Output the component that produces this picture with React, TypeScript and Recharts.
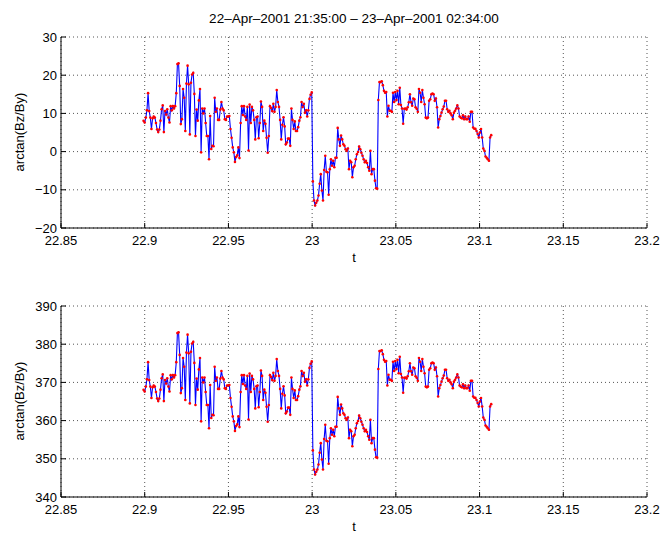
import React from 'react';
import { LineChart, Line, XAxis, YAxis, CartesianGrid } from 'recharts';

const TITLE = '22–Apr–2001 21:35:00 – 23–Apr–2001 02:34:00';
const Y_LABEL = 'arctan(Bz/By)';
const X_LABEL = 't';

// time axis in days of month (start / end of the interval)
const T_START = 22 + (21 * 60 + 35) / 1440;
const T_END = 23 + (2 * 60 + 34) / 1440;

const X_TICKS = [22.85, 22.9, 22.95, 23, 23.05, 23.1, 23.15, 23.2];
const TOP_Y_TICKS = [-20, -10, 0, 10, 20, 30];
const BOTTOM_Y_TICKS = [340, 350, 360, 370, 380, 390];

// arctan(Bz/By) in degrees
const ANGLE = [
  8.05, 7.6, 8.9, 10.8, 15.3, 10.6, 8.9, 5.9, 8.7, 9.2,
  8.9, 7.5, 5.8, 5.1, 5.8, 8.1, 11.1, 12.1, 5.1, 10.6,
  9.7, 11.1, 8.9, 7.6, 11.9, 10.8, 11.9, 11.3, 11.9, 15.3,
  22.9, 23.1, 17.2, 7.2, 8.5, 16.4, 14.1, 5.4, 17.8, 22.5,
  17.6, 4.5, 18.0, 20.2, 20.6, 15.1, 4.1, 11.0, 8.1, 13.4,
  16.4, -0.2, 11.3, 10.0, 11.3, 7.5, 4.1, 4.1, -2.0, 9.3,
  0.7, 1.5, 1.4, 14.1, 10.4, 11.3, 8.3, 8.3, 11.0, 13.0,
  11.3, 10.8, 8.5, 8.3, 9.2, 9.2, 9.3, 5.9, 3.6, 1.1,
  -0.2, -2.7, -1.4, -1.0, 1.1, -1.7, 7.5, 11.9, 9.6, 11.9,
  9.2, 8.3, 11.7, 0.3, 12.3, 7.5, 11.7, 10.8, 8.3, 3.2,
  9.0, 9.2, 3.5, 7.5, 13.1, 11.7, 5.4, 8.1, 7.3, 3.6,
  -0.3, 4.1, 11.9, 11.4, 10.6, 12.5, 10.4, 11.7, 16.1, 13.0,
  11.7, 8.3, 3.2, 7.0, 9.0, 6.6, 1.9, 2.4, 3.4, 3.4,
  1.5, 11.3, 8.3, 5.9, 7.9, 5.4, 5.4, 6.4, 8.1, 9.0,
  13.0, 11.7, 12.5, 10.2, 10.8, 9.2, 10.8, 13.8, 14.9, 15.5,
  -7.8, -12.8, -14.1, -13.4, -12.8, -11.5, -8.4, -5.9, -10.2, -12.8,
  -4.8, -1.1, -5.3, -5.4, -11.3, -4.6, -2.0, -3.7, -2.4, -4.1,
  -1.6, -1.6, 6.2, 3.2, 1.5, 4.2, 3.2, 1.9, 1.5, 0.6,
  0.2, 0.8, -4.6, -2.4, -2.8, -6.7, -4.1, -3.7, -2.0, -0.7,
  -0.1, 1.3, 0.6, -0.3, -1.1, -2.0, -2.8, -2.4, -3.0, -4.1,
  -5.0, 0.2, -5.9, -4.6, -4.6, -7.6, -9.6, -9.7, 13.5, 18.2,
  18.2, 18.4, 17.4, 15.9, 15.4, 15.6, 9.2, 12.0, 10.7, 10.7,
  10.4, 15.4, 13.0, 15.6, 13.5, 15.9, 12.4, 16.7, 12.2, 11.3,
  7.3, 11.2, 11.3, 11.0, 11.6, 12.9, 15.0, 12.9, 12.0, 13.9,
  13.7, 11.6, 11.2, 10.4, 16.4, 15.4, 13.0, 16.1, 14.1, 12.4,
  8.9, 8.7, 8.9, 13.3, 13.7, 15.0, 15.2, 15.0, 13.3, 13.9,
  11.6, 6.3, 8.5, 9.3, 10.2, 11.1, 11.8, 13.3, 13.3, 11.1,
  10.4, 10.7, 10.0, 9.5, 8.5, 10.2, 10.7, 11.3, 12.1, 11.3,
  9.2, 8.9, 8.7, 9.5, 8.5, 9.2, 8.5, 8.5, 9.2, 7.8,
  10.4, 10.4, 6.3, 6.0, 6.0, 5.4, 4.6, 3.7, 5.0, 5.9,
  3.7, 0.8, 0.2, -1.3, -1.6, -2.0, -2.4, 3.7, 4.3,
];

const step = (T_END - T_START) / (ANGLE.length - 1);
const topData = ANGLE.map((v, i) => ({ t: T_START + i * step, v }));
// lower panel is the same angle unwrapped by one full turn
const bottomData = ANGLE.map((v, i) => ({ t: T_START + i * step, v: v + 360 }));

const FONT = '"Liberation Sans", Arial, Helvetica, sans-serif';
const tickStyle = { fill: '#000', fontSize: 13, fontFamily: FONT };

function fmt(v: number): string {
  return v < 0 ? '\u2212' + Math.abs(v) : String(v);
}

interface PanelProps {
  data: { t: number; v: number }[];
  yTicks: number[];
  height: number;
  marginTop: number;
  top: number;
}

function Panel({ data, yTicks, height, marginTop, top }: PanelProps) {
  const yDomain: [number, number] = [yTicks[0], yTicks[yTicks.length - 1]];
  return (
    <div style={{ position: 'absolute', left: 0, top }}>
      <LineChart width={664} height={height} data={data} margin={{ top: marginTop, right: 17, bottom: 0, left: 0 }}>
        <CartesianGrid stroke="#555" strokeDasharray="1 3" />
        <XAxis
          dataKey="t" type="number" domain={[22.85, 23.2]} ticks={X_TICKS} interval={0}
          allowDataOverflow height={40} tickSize={-5} tickMargin={13}
          stroke="#000" tick={tickStyle} tickFormatter={fmt}
        />
        <XAxis
          xAxisId="top" orientation="top" dataKey="t" type="number" domain={[22.85, 23.2]}
          ticks={X_TICKS} interval={0} allowDataOverflow height={0} tickSize={-5}
          stroke="#000" tick={false}
        />
        <YAxis
          type="number" domain={yDomain} ticks={yTicks} interval={0} allowDataOverflow
          width={61} tickSize={-5} tickMargin={9}
          stroke="#000" tick={tickStyle} tickFormatter={fmt}
        />
        <YAxis
          yAxisId="right" orientation="right" type="number" domain={yDomain} ticks={yTicks}
          interval={0} allowDataOverflow width={0} tickSize={-5}
          stroke="#000" tick={false}
        />
        <Line
          type="linear" dataKey="v" stroke="none"
          dot={{ r: 1.3, fill: '#ff0000', stroke: 'none' }}
          isAnimationActive={false}
        />
        <Line
          type="linear" dataKey="v" stroke="#0000ff" strokeWidth={1.1}
          dot={false} isAnimationActive={false}
        />
      </LineChart>
    </div>
  );
}

const textBase: React.CSSProperties = {
  position: 'absolute',
  fontFamily: FONT,
  fontSize: 13,
  color: '#000',
  whiteSpace: 'nowrap',
  lineHeight: '16px',
};

function YLabel({ cy }: { cy: number }) {
  return (
    <div style={{ ...textBase, left: 20, top: cy, transform: 'translate(-50%, -50%) rotate(-90deg)' }}>
      {Y_LABEL}
    </div>
  );
}

function XLabel({ cy }: { cy: number }) {
  return (
    <div style={{ ...textBase, left: 354, top: cy, transform: 'translate(-50%, -50%)' }}>
      {X_LABEL}
    </div>
  );
}

export default function App() {
  return (
    <div style={{ position: 'relative', width: 664, height: 537, background: '#fff', overflow: 'hidden' }}>
      <style>{'body{margin:0;}'}</style>
      <div style={{ ...textBase, fontSize: 13.5, left: 354, top: 19, transform: 'translate(-50%, -50%)' }}>{TITLE}</div>

      <Panel data={topData} yTicks={TOP_Y_TICKS} height={268} marginTop={37} top={0} />
      <YLabel cy={132} />
      <XLabel cy={258} />

      <Panel data={bottomData} yTicks={BOTTOM_Y_TICKS} height={269} marginTop={38} top={268} />
      <YLabel cy={401} />
      <XLabel cy={527} />
    </div>
  );
}
